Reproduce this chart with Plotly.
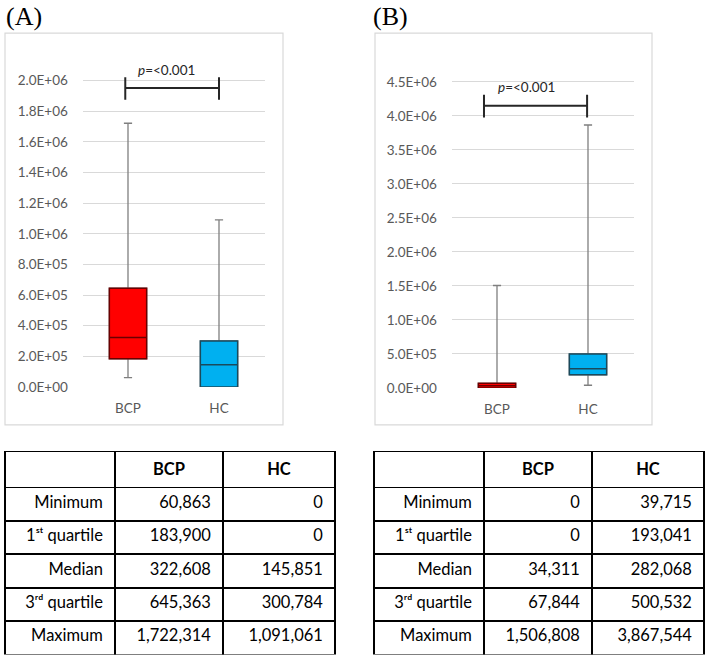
import plotly.graph_objects as go

# ---------------- data ----------------
categories = ["BCP", "HC"]
stat_labels = ["Minimum", "1\u02e2\u1d57 quartile", "Median", "3\u02b3\u1d48 quartile", "Maximum"]

a_min = [60863, 0]
a_q1 = [183900, 0]
a_med = [322608, 145851]
a_q3 = [645363, 300784]
a_max = [1722314, 1091061]

b_min = [0, 39715]
b_q1 = [0, 193041]
b_med = [34311, 282068]
b_q3 = [67844, 500532]
b_max = [1506808, 3867544]

a_tickvals = [0, 2e5, 4e5, 6e5, 8e5, 1e6, 1.2e6, 1.4e6, 1.6e6, 1.8e6, 2e6]
a_ticktext = ["0.0E+00", "2.0E+05", "4.0E+05", "6.0E+05", "8.0E+05", "1.0E+06",
              "1.2E+06", "1.4E+06", "1.6E+06", "1.8E+06", "2.0E+06"]
b_tickvals = [0, 5e5, 1e6, 1.5e6, 2e6, 2.5e6, 3e6, 3.5e6, 4e6, 4.5e6]
b_ticktext = ["0.0E+00", "5.0E+05", "1.0E+06", "1.5E+06", "2.0E+06", "2.5E+06",
              "3.0E+06", "3.5E+06", "4.0E+06", "4.5E+06"]

p_text = "<i>p</i>=&lt;0.001"

# ---------------- styles ----------------
W, H = 708, 663
fills = ["#FF0000", "#00B0F0"]
outlines = ["#6a0000", "#1a4a5c"]
whisker_col = "#7f7f7f"
grid_col = "#d9d9d9"
tick_col = "#595959"
FONT = "Lato"
PAD = "\u2005"

def px_x(p):
    return p / W

def px_y(p):
    return 1 - p / H

fig = go.Figure()

def add_boxes(mins, q1s, meds, q3s, maxs, xa, ya):
    for i, cat in enumerate(categories):
        # whiskers (gray)
        fig.add_trace(go.Box(
            x=[cat], q1=[q1s[i]], median=[meds[i]], q3=[q3s[i]],
            lowerfence=[mins[i]], upperfence=[maxs[i]],
            width=0.41, whiskerwidth=0.22, boxpoints=False,
            line=dict(color=whisker_col, width=1.3),
            fillcolor=fills[i], xaxis=xa, yaxis=ya, showlegend=False,
            hoverinfo="skip"))
        # box with darker outline
        fig.add_trace(go.Box(
            x=[cat], q1=[q1s[i]], median=[meds[i]], q3=[q3s[i]],
            lowerfence=[q1s[i]], upperfence=[q3s[i]],
            width=0.41, whiskerwidth=0, boxpoints=False,
            line=dict(color=outlines[i], width=1.5),
            fillcolor=fills[i], xaxis=xa, yaxis=ya, showlegend=False))

add_boxes(a_min, a_q1, a_med, a_q3, a_max, "x", "y")
add_boxes(b_min, b_q1, b_med, b_q3, b_max, "x2", "y2")

a_bottom, a_top_px = 391.7, 60
a_scale = 310 / 2e6
a_range_top = (a_bottom - a_top_px) / a_scale
b_bottom, b_top_px = 392.7, 70
b_scale = 309.7 / 4.5e6
b_range_top = (b_bottom - b_top_px) / b_scale

axis_font = dict(family=FONT, size=13.5, color=tick_col)

fig.update_layout(
    width=W, height=H, margin=dict(l=0, r=0, t=0, b=0),
    paper_bgcolor="white", plot_bgcolor="white",
    boxmode="overlay",
    xaxis=dict(domain=[px_x(82.5), px_x(264.5)], range=[-0.5, 1.5],
               categoryorder="array", categoryarray=categories,
               showgrid=False, zeroline=False, showline=False,
               ticks="outside", ticklen=9, tickcolor="rgba(0,0,0,0)",
               tickfont=axis_font, anchor="y"),
    yaxis=dict(domain=[px_y(a_bottom), px_y(a_top_px)], range=[0, a_range_top],
               tickvals=a_tickvals, ticktext=a_ticktext,
               showgrid=True, gridcolor=grid_col, gridwidth=1,
               zeroline=False, showline=False,
               ticks="outside", ticklen=11, tickcolor="rgba(0,0,0,0)",
               tickfont=axis_font, anchor="x"),
    xaxis2=dict(domain=[px_x(451.5), px_x(633.5)], range=[-0.5, 1.5],
                categoryorder="array", categoryarray=categories,
                showgrid=False, zeroline=False, showline=False,
                ticks="outside", ticklen=9, tickcolor="rgba(0,0,0,0)",
                tickfont=axis_font, anchor="y2"),
    yaxis2=dict(domain=[px_y(b_bottom), px_y(b_top_px)], range=[0, b_range_top],
                tickvals=b_tickvals, ticktext=b_ticktext,
                showgrid=True, gridcolor=grid_col, gridwidth=1,
                zeroline=False, showline=False,
                ticks="outside", ticklen=11, tickcolor="rgba(0,0,0,0)",
                tickfont=axis_font, anchor="x2"),
)

shapes = []
# chart-area borders
for x0, x1 in [(5, 283), (375, 652)]:
    shapes.append(dict(type="rect", xref="paper", yref="paper",
                       x0=px_x(x0), x1=px_x(x1), y0=px_y(430), y1=px_y(33.5),
                       line=dict(color=grid_col, width=1.2), layer="below"))

# significance brackets
def bracket(xr, yr, xl, xr_, yh, ylo, yhi):
    d = dict(color="#262626", width=2)
    shapes.append(dict(type="line", xref=xr, yref=yr, x0=xl, x1=xr_, y0=yh, y1=yh, line=d))
    shapes.append(dict(type="line", xref=xr, yref=yr, x0=xl, x1=xl, y0=ylo, y1=yhi, line=d))
    shapes.append(dict(type="line", xref=xr, yref=yr, x0=xr_, x1=xr_, y0=ylo, y1=yhi, line=d))

bracket("x", "y", -0.03, 1.0, 1.953e6, 1.875e6, 2.023e6)
bracket("x2", "y2", -0.143, 0.99, 4.151e6, 3.977e6, 4.311e6)
fig.update_layout(shapes=shapes)

ann = [
    dict(text=p_text, x=0.418, y=2.069e6, xref="x", yref="y", showarrow=False,
         font=dict(family=FONT, size=13.5, color="#262626")),
    dict(text=p_text, x=0.32, y=4.43e6, xref="x2", yref="y2", showarrow=False,
         font=dict(family=FONT, size=13.5, color="#262626")),
    dict(text="(A)", x=px_x(4), y=px_y(0), xref="paper", yref="paper",
         xanchor="left", yanchor="top", showarrow=False,
         font=dict(family="Liberation Serif", size=26, color="black")),
    dict(text="(B)", x=px_x(371), y=px_y(0), xref="paper", yref="paper",
         xanchor="left", yanchor="top", showarrow=False,
         font=dict(family="Liberation Serif", size=26, color="black")),
]
fig.update_layout(annotations=ann)

# ---------------- tables ----------------
def fmt(v):
    return f"{v:,}" + PAD

def add_table(mins, q1s, meds, q3s, maxs, x0, x1):
    cols = [[s + PAD for s in stat_labels]]
    for i in range(len(categories)):
        cols.append([fmt(mins[i]), fmt(q1s[i]), fmt(meds[i]), fmt(q3s[i]), fmt(maxs[i])])
    fig.add_trace(go.Table(
        domain=dict(x=[px_x(x0), px_x(x1)], y=[0, px_y(457)]),
        columnwidth=[110, 108, 112],
        header=dict(values=[" "] + [f"<b>{c}</b>" for c in categories],
                    align="center", height=34,
                    line=dict(color="black", width=1.8),
                    fill=dict(color="white"),
                    font=dict(family=FONT, size=16.5, color="black")),
        cells=dict(values=cols, align="right", height=33.4,
                   line=dict(color="black", width=1.8),
                   fill=dict(color="white"),
                   font=dict(family=FONT, size=16.5, color="black"))))

add_table(a_min, a_q1, a_med, a_q3, a_max, 5, 335)
add_table(b_min, b_q1, b_med, b_q3, b_max, 374, 704)

fig.write_html("out.html", config={"displayModeBar": False},
               post_script="document.body.style.margin='0';")
